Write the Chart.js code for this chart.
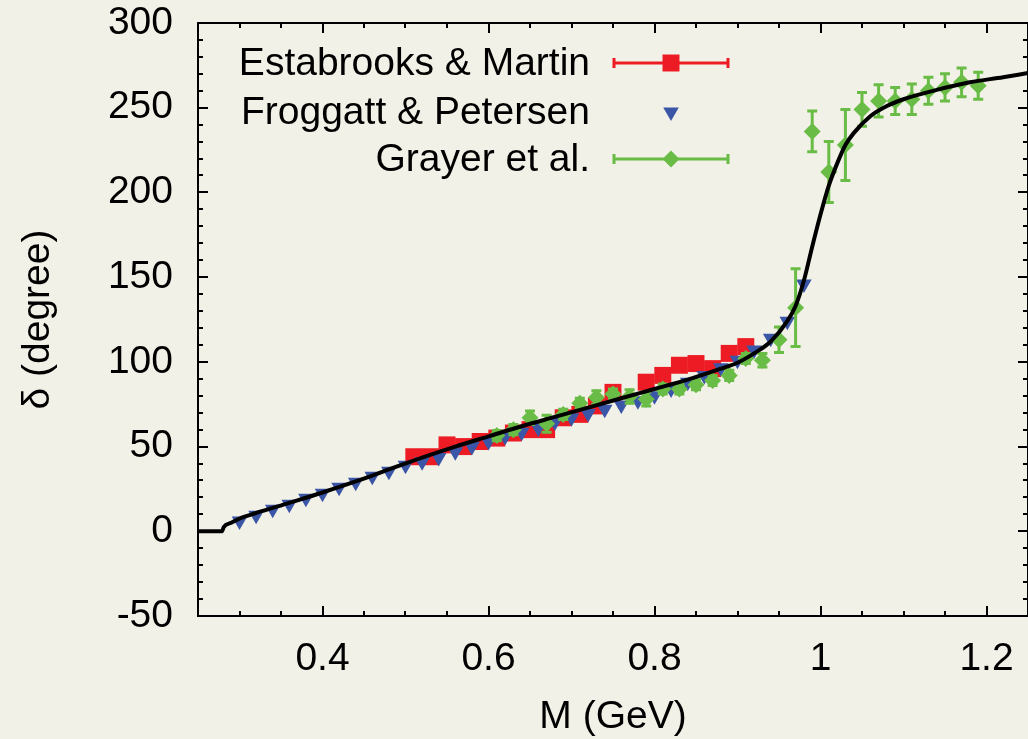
<!DOCTYPE html>
<html>
<head>
<meta charset="utf-8">
<script src="https://cdn.jsdelivr.net/npm/chart.js@4.4.0/dist/chart.umd.min.js"></script>
<style>
  html, body { margin: 0; padding: 0; background: #f2f1e7; }
  #wrap { width: 1028px; height: 739px; }
</style>
</head>
<body>
<div id="wrap"><canvas id="cadre"></canvas></div>
<script>
// axis ticks
const xTicks = [0.4, 0.6, 0.8, 1.0, 1.2];
const yTicks = [-50, 0, 50, 100, 150, 200, 250, 300];

// model curve
const curveM = [0.25, 0.279, 0.281, 0.29, 0.30, 0.32, 0.36, 0.40, 0.44, 0.48, 0.52, 0.56, 0.60, 0.64, 0.68, 0.72, 0.76, 0.80, 0.84, 0.88, 0.90, 0.92, 0.94, 0.96, 0.97, 0.98, 0.99, 1.00, 1.01, 1.02, 1.03, 1.04, 1.06, 1.08, 1.10, 1.14, 1.18, 1.22, 1.25];
const curveD = [0, 0, 2.5, 5, 7.5, 10.8, 16.8, 22.9, 29.4, 36.5, 43.5, 50, 56, 62, 67.5, 73, 78.5, 84, 89.5, 96, 99.5, 105, 112, 124, 133, 148, 168, 187, 204, 217, 228, 235, 245, 251, 255, 260.5, 265, 268, 270.5];

// Estabrooks & Martin
const emM = [0.51, 0.53, 0.55, 0.57, 0.59, 0.61, 0.63, 0.65, 0.67, 0.69, 0.71, 0.73, 0.75, 0.79, 0.81, 0.83, 0.85, 0.87, 0.89, 0.91];
const emD = [44, 44, 51, 50, 53, 55, 58, 60, 60, 67, 69, 74, 82, 88, 92, 98, 99, 96, 105, 109];

// Froggatt & Petersen
const fpM = [0.30, 0.32, 0.34, 0.36, 0.38, 0.40, 0.42, 0.44, 0.46, 0.48, 0.50, 0.52, 0.54, 0.56, 0.58, 0.60, 0.62, 0.64, 0.66, 0.68, 0.70, 0.72, 0.74, 0.76, 0.78, 0.80, 0.82, 0.84, 0.86, 0.88, 0.90, 0.92, 0.94, 0.96, 0.98];
const fpD = [6, 9.5, 13, 16, 19.5, 22.5, 26, 29, 32.5, 35.5, 39, 41, 43.5, 47, 50, 53, 56, 58.5, 61, 64.5, 67, 69.5, 72, 74.5, 77, 80, 84, 88, 92, 96.5, 101, 107, 114, 124, 146];

// Grayer et al.
const grM = [0.61, 0.63, 0.65, 0.67, 0.69, 0.71, 0.73, 0.75, 0.77, 0.79, 0.81, 0.83, 0.85, 0.87, 0.89, 0.91, 0.93, 0.95, 0.97, 0.99, 1.01, 1.03, 1.05, 1.07, 1.09, 1.11, 1.13, 1.15, 1.17, 1.19];
const grD = [56.5, 60, 67, 63.5, 69, 75.5, 79, 81, 79.5, 78, 84, 84, 86.5, 89, 92, 102, 101, 113, 132, 236, 212, 228, 249, 254, 254, 255, 260, 262, 265, 263];
const grErr = [3, 3, 4, 5, 3, 3, 4, 3, 4, 4, 3, 3, 3, 3, 3, 3, 4, 7.5, 23, 12, 18, 21, 10, 9.5, 8, 9, 8, 8, 8.5, 8];

const RED = "#ed1c24";
const BLUE = "#3b56a6";
const GREEN = "#69bc45";
const FONT = { family: "'Liberation Sans', Arial, sans-serif", size: 39 };

const toXY = (xs, ys) => xs.map((x, i) => ({ x: x, y: ys[i] }));

// frame with inward ticks on all four sides
const frame = {
  id: "frame",
  beforeDatasetsDraw(chart) {
    const { ctx, chartArea: a, scales: { x, y } } = chart;
    ctx.save();
    ctx.strokeStyle = "#000";
    ctx.lineWidth = 2;
    ctx.strokeRect(a.left, a.top, a.right - a.left, a.bottom - a.top);
    ctx.beginPath();
    for (let v = 0.25; v <= 1.2501; v += 0.05) {
      const major = xTicks.some(t => Math.abs(t - v) < 1e-6);
      const len = major ? 10 : 5;
      const px = Math.round(x.getPixelForValue(v));
      ctx.moveTo(px, a.bottom); ctx.lineTo(px, a.bottom - len);
      ctx.moveTo(px, a.top); ctx.lineTo(px, a.top + len);
    }
    for (let v = -50; v <= 300; v += 10) {
      const major = v % 50 === 0;
      const len = major ? 10 : 5;
      const py = Math.round(y.getPixelForValue(v));
      ctx.moveTo(a.left, py); ctx.lineTo(a.left + len, py);
      ctx.moveTo(a.right, py); ctx.lineTo(a.right - len, py);
    }
    ctx.stroke();
    ctx.restore();
  }
};

function bar(ctx, x1, y1, x2, y2, cap, vertical) {
  ctx.moveTo(x1, y1); ctx.lineTo(x2, y2);
  if (vertical) {
    ctx.moveTo(x1 - cap, y1); ctx.lineTo(x1 + cap, y1);
    ctx.moveTo(x2 - cap, y2); ctx.lineTo(x2 + cap, y2);
  } else {
    ctx.moveTo(x1, y1 - cap); ctx.lineTo(x1, y1 + cap);
    ctx.moveTo(x2, y2 - cap); ctx.lineTo(x2, y2 + cap);
  }
}

// vertical error bars for Grayer, drawn just under its diamonds
const errorBars = {
  id: "errorBars",
  beforeDatasetDraw(chart, args) {
    if (args.index !== 1) return;
    const { ctx, scales: { x, y } } = chart;
    ctx.save();
    ctx.strokeStyle = GREEN;
    ctx.lineWidth = 3;
    ctx.beginPath();
    grM.forEach((m, i) => {
      const px = x.getPixelForValue(m);
      bar(ctx, px, y.getPixelForValue(grD[i] + grErr[i]), px, y.getPixelForValue(grD[i] - grErr[i]), 5, true);
    });
    ctx.stroke();
    ctx.restore();
  }
};

// gnuplot style key: text right aligned, sample on the right
const key = {
  id: "key",
  afterDraw(chart) {
    const ctx = chart.ctx;
    const rows = [
      { text: "Estabrooks & Martin", color: RED, style: "rect", radius: 12, bars: true, y: 63 },
      { text: "Froggatt & Petersen", color: BLUE, style: "triangle", radius: 9, bars: false, y: 112 },
      { text: "Grayer et al.", color: GREEN, style: "rectRot", radius: 8.5, bars: true, y: 159 }
    ];
    ctx.save();
    ctx.font = FONT.size + "px " + FONT.family;
    ctx.textAlign = "right";
    ctx.textBaseline = "middle";
    rows.forEach(r => {
      ctx.fillStyle = "#000";
      ctx.fillText(r.text, 590, r.y + 1);
      if (r.bars) {
        ctx.strokeStyle = r.color;
        ctx.lineWidth = 3;
        ctx.beginPath();
        bar(ctx, 614, r.y, 728, r.y, 5, false);
        ctx.stroke();
      }
      ctx.fillStyle = r.color;
      Chart.helpers.drawPoint(ctx, {
        pointStyle: r.style,
        rotation: r.style === "triangle" ? 180 : 0,
        radius: r.radius,
        borderWidth: 0
      }, 671, r.y);
    });
    ctx.restore();
  }
};

const ctx = document.getElementById("cadre").getContext("2d");

new Chart(ctx, {
  type: "scatter",
  data: {
    datasets: [
      {
        label: "model",
        data: toXY(curveM, curveD),
        showLine: true,
        borderColor: "#000",
        borderWidth: 4,
        pointRadius: 0,
        cubicInterpolationMode: "monotone",
        fill: false
      },
      {
        label: "Grayer et al.",
        data: toXY(grM, grD),
        pointStyle: "rectRot",
        pointRadius: 8.5,
        pointBackgroundColor: GREEN,
        pointBorderWidth: 0
      },
      {
        label: "Froggatt & Petersen",
        data: toXY(fpM, fpD),
        pointStyle: "triangle",
        pointRotation: 180,
        pointRadius: 9,
        pointBackgroundColor: BLUE,
        pointBorderWidth: 0
      },
      {
        label: "Estabrooks & Martin",
        data: toXY(emM, emD),
        pointStyle: "rect",
        pointRadius: 12,
        pointBackgroundColor: RED,
        pointBorderWidth: 0
      }
    ]
  },
  options: {
    responsive: true,
    maintainAspectRatio: false,
    animation: false,
    devicePixelRatio: 1,
    layout: { autoPadding: false, padding: { top: 23, right: 0, left: 0, bottom: 0 } },
    plugins: {
      legend: { display: false },
      tooltip: { enabled: false }
    },
    scales: {
      x: {
        type: "linear",
        min: 0.25,
        max: 1.25,
        afterBuildTicks: s => { s.ticks = xTicks.map(v => ({ value: v })); },
        afterFit: s => { s.height = 123; s.paddingLeft = 0; s.paddingRight = 0; },
        grid: { display: false },
        border: { display: false },
        ticks: {
          font: FONT,
          color: "#000",
          padding: 12,
          maxRotation: 0,
          autoSkip: false,
          callback: v => String(v)
        },
        title: {
          display: true,
          text: "M (GeV)",
          font: FONT,
          color: "#000",
          padding: { top: 0, bottom: -2 }
        }
      },
      y: {
        min: -50,
        max: 300,
        afterBuildTicks: s => { s.ticks = yTicks.map(v => ({ value: v })); },
        afterFit: s => { s.width = 198; s.paddingTop = 0; s.paddingBottom = 0; },
        grid: { display: false },
        border: { display: false },
        ticks: {
          font: FONT,
          color: "#000",
          padding: 17,
          autoSkip: false,
          callback: v => String(v)
        },
        title: {
          display: true,
          text: "δ (degree)",
          font: FONT,
          color: "#000",
          padding: { top: 15, bottom: 0 }
        }
      }
    }
  },
  plugins: [frame, errorBars, key]
});
</script>
</body>
</html>
